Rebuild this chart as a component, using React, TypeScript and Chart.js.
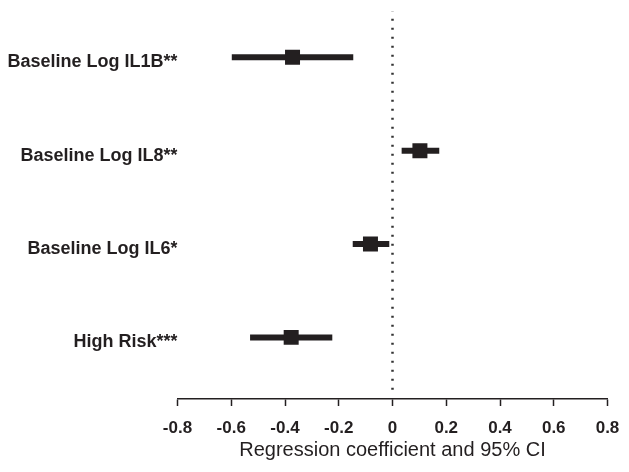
import React, { useEffect, useRef } from 'react';
import { Chart, registerables } from 'chart.js';

Chart.register(...registerables);

const categories = ['Baseline Log IL1B**', 'Baseline Log IL8**', 'Baseline Log IL6*', 'High Risk***'];
const estimates = [-0.372, 0.102, -0.082, -0.377];
const lowerCI = [-0.598, 0.034, -0.148, -0.53];
const upperCI = [-0.146, 0.174, -0.012, -0.224];
const xTicks = [-0.8, -0.6, -0.4, -0.2, 0, 0.2, 0.4, 0.6, 0.8];
const xTitle = 'Regression coefficient and 95% CI';
const zeroLineExtent = [0.44, 4.49];

const INK = '#231f20';
const FONT = "'Liberation Sans', Arial, Helvetica, sans-serif";

export default function App() {
  const ref = useRef<HTMLCanvasElement>(null);

  useEffect(() => {
    document.body.style.margin = '0';
    const canvas = ref.current;
    if (!canvas) return;
    const n = categories.length;
    const rowY = categories.map((_, i) => n - i);

    const ciSets = categories.map((c, i) => ({
      type: 'line' as const,
      label: c,
      data: [
        { x: lowerCI[i], y: rowY[i] },
        { x: upperCI[i], y: rowY[i] },
      ],
      borderColor: INK,
      borderWidth: 6,
      borderCapStyle: 'butt' as const,
      pointRadius: 0,
      showLine: true,
      order: 2,
    }));

    const chart = new Chart(canvas, {
      type: 'scatter',
      data: {
        datasets: [
          {
            type: 'line',
            label: 'zero',
            data: [
              { x: 0, y: zeroLineExtent[0] },
              { x: 0, y: zeroLineExtent[1] },
            ],
            borderColor: '#333',
            borderWidth: 2.5,
            borderDash: [2, 7],
            pointRadius: 0,
            showLine: true,
            order: 3,
          } as any,
          ...ciSets,
          {
            label: 'estimate',
            data: estimates.map((v, i) => ({ x: v, y: rowY[i] })),
            pointStyle: 'rect',
            pointRadius: 10.6,
            pointBackgroundColor: INK,
            pointBorderWidth: 0,
            order: 1,
          } as any,
        ],
      },
      options: {
        responsive: false,
        animation: false,
        layout: { padding: { left: 0, right: 21.5, top: 8, bottom: 0 } },
        plugins: { legend: { display: false }, tooltip: { enabled: false } },
        scales: {
          x: {
            type: 'linear',
            min: -0.8,
            max: 0.8,
            afterBuildTicks: (s: any) => {
              s.ticks = xTicks.map((v) => ({ value: v }));
            },
            afterFit: (s: any) => {
              s.height = 73;
              s.paddingLeft = 0;
              s.paddingRight = 0;
              s.paddingTop = 0;
              s.paddingBottom = 0;
            },
            grid: {
              display: true,
              drawOnChartArea: false,
              drawTicks: true,
              tickLength: 7,
              tickWidth: 1.5,
              tickColor: INK,
            },
            border: { display: true, color: INK, width: 1.5 },
            ticks: {
              padding: 12,
              color: INK,
              font: { family: FONT, size: 17, weight: 'bold' },
              maxRotation: 0,
              autoSkip: false,
              callback: (v: any) => String(Number(Number(v).toFixed(1))),
            },
            title: {
              display: true,
              text: xTitle,
              color: INK,
              font: { family: FONT, size: 20, weight: 'normal' },
              padding: { top: 0, bottom: 10 },
            },
          },
          y: {
            type: 'linear',
            min: 0.34,
            max: 4.5,
            afterBuildTicks: (s: any) => {
              s.ticks = [...rowY].sort((a, b) => a - b).map((v) => ({ value: v }));
            },
            afterFit: (s: any) => {
              s.width = 177.5;
              s.paddingLeft = 0;
              s.paddingRight = 0;
              s.paddingTop = 0;
              s.paddingBottom = 0;
            },
            grid: { display: false, drawTicks: false },
            border: { display: false },
            ticks: {
              padding: 0,
              labelOffset: 5,
              color: INK,
              autoSkip: false,
              font: { family: FONT, size: 18, weight: 'bold' },
              callback: (v: any) => categories[n - Number(v)] ?? '',
            },
          },
        },
      },
    });
    return () => chart.destroy();
  }, []);

  return (
    <div style={{ width: 629, height: 472 }}>
      <canvas ref={ref} width={629} height={472} style={{ display: 'block' }} />
    </div>
  );
}
